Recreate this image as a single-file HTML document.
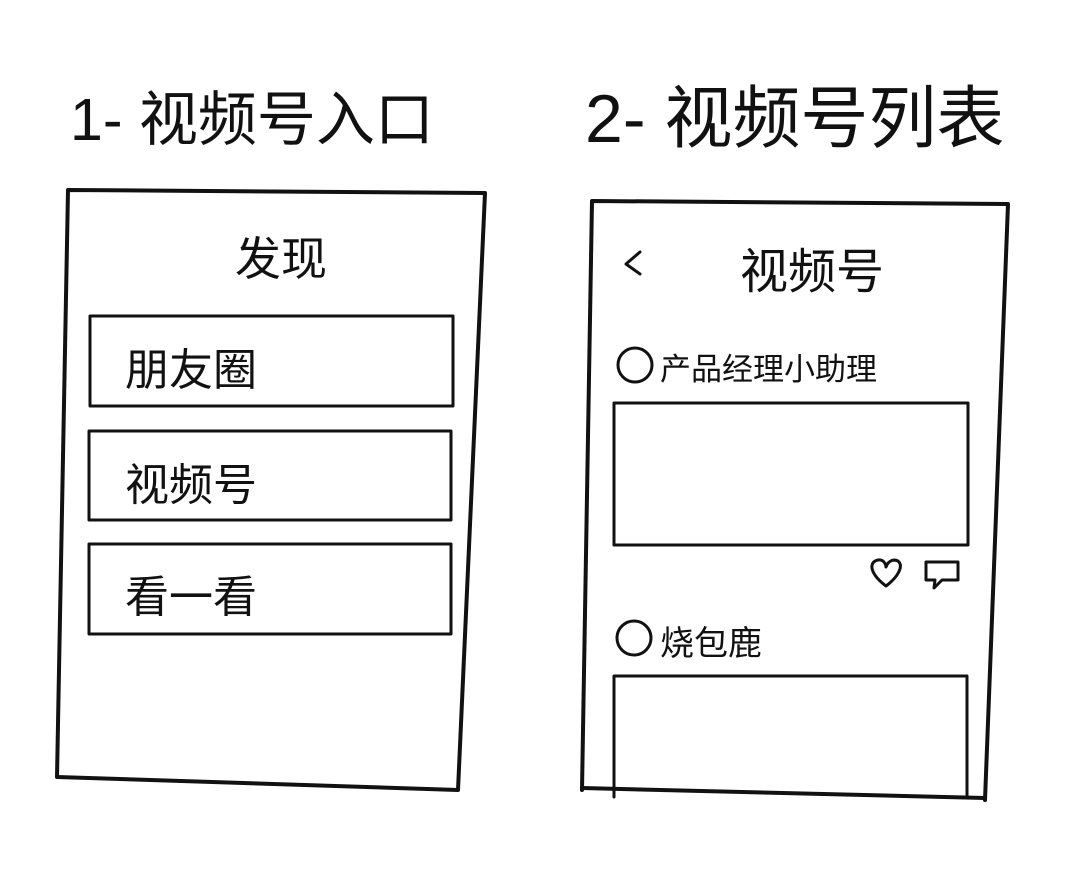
<!DOCTYPE html>
<html><head><meta charset="utf-8"><style>
html,body{margin:0;padding:0;background:#fff;}
svg{display:block;}
text{font-family:"Liberation Sans","Noto Sans CJK SC","WenQuanYi Zen Hei",sans-serif;fill:#111;}
</style></head><body>
<svg width="1079" height="869" viewBox="0 0 1079 869" xmlns="http://www.w3.org/2000/svg">
<g stroke="#111" stroke-width="4" fill="none" stroke-linejoin="round" stroke-linecap="round">
  <polygon points="68,190 485,193 458,790 57,777"/>
  <rect x="90" y="316" width="363" height="90" stroke-width="3"/>
  <rect x="89" y="431" width="362" height="89" stroke-width="3"/>
  <rect x="89" y="544" width="362" height="90" stroke-width="3"/>
  <polyline points="582,790 592,201 1008,204 985,800"/>
  <line x1="582" y1="788" x2="985" y2="798"/>
  <polyline points="640,252 626,264 640,274" stroke-width="3"/>
  <circle cx="635" cy="365" r="17" stroke-width="3"/>
  <rect x="614" y="403" width="354" height="142" stroke-width="3"/>
  <path d="M886,586 C870,574 868,562 878,560 C884,559 886,565 886,567 C887,563 892,558 898,561 C904,566 898,577 886,586 Z" stroke-width="3"/>
  <path d="M926,562 H958 V580 H942 L934,588 L935,580 H926 Z" stroke-width="3"/>
  <circle cx="634" cy="638" r="17" stroke-width="3"/>
  <polyline points="614,797 614,676 967,676 967,797" stroke-width="3"/>
</g>
<text x="70" y="140" font-size="59">1- 视频号入口</text>
<text x="585" y="142" font-size="68">2- 视频号列表</text>
<text x="235" y="275" font-size="46">发现</text>
<text x="125" y="385" font-size="44">朋友圈</text>
<text x="125" y="500" font-size="44">视频号</text>
<text x="125" y="612" font-size="44">看一看</text>
<text x="740" y="288" font-size="48">视频号</text>
<text x="660" y="380" font-size="31">产品经理小助理</text>
<text x="660" y="655" font-size="34">烧包鹿</text>
</svg>
</body></html>
